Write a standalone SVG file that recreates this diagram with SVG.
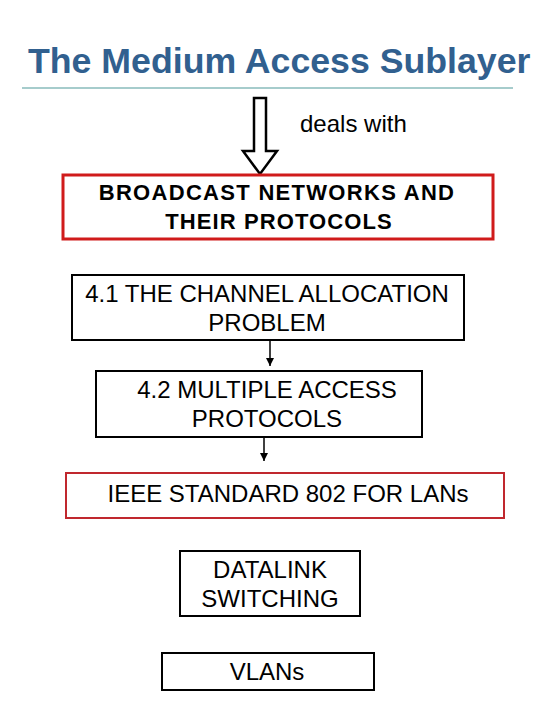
<svg xmlns="http://www.w3.org/2000/svg" width="540" height="720" viewBox="0 0 540 720">
<style>
.t{font-family:"Liberation Sans",Arial,sans-serif;fill:#000;text-anchor:middle}
.r{font-size:24px}
.b{font-size:22px;font-weight:bold}
.box{fill:#fff;stroke:#000;stroke-width:2}
.conn{stroke:#000;stroke-width:1.5;fill:none}
</style>
<defs>
<marker id="ah" viewBox="0 0 8 10" refX="8" refY="5" markerWidth="8" markerHeight="10" markerUnits="userSpaceOnUse" orient="auto">
<path d="M0,1 L8,5 L0,9 z" fill="#000"/>
</marker>
</defs>
<rect width="540" height="720" fill="#fff"/>
<g id="title">
<text x="28" y="73" font-family="Liberation Sans,Arial,sans-serif" font-weight="bold" font-size="35.7" fill="#31608f">The Medium Access Sublayer</text>
<line x1="22" y1="88" x2="513" y2="88" stroke="#4f9a9a" stroke-width="1.2"/>
</g>
<g id="connectors">
<path d="M254,98 L266,98 L266,151 L277,151 L260,174 L243,151 L254,151 Z" fill="#fff" stroke="#000" stroke-width="2.5" stroke-linejoin="miter"/>
<line class="conn" x1="270" y1="341" x2="270" y2="366" marker-end="url(#ah)"/>
<line class="conn" x1="264" y1="438" x2="264" y2="461" marker-end="url(#ah)"/>
</g>
<g id="deals-with">
<text x="300" y="132" font-family="Liberation Sans,Arial,sans-serif" font-size="24" fill="#000">deals with</text>
</g>
<g id="broadcast">
<rect x="63" y="175" width="430" height="64" fill="#fff" stroke="#d01b1b" stroke-width="3"/>
<text class="t b" x="277" y="200" letter-spacing="1.3">BROADCAST NETWORKS AND</text>
<text class="t b" x="279" y="229" letter-spacing="1.1">THEIR PROTOCOLS</text>
</g>
<g id="channel-allocation">
<rect class="box" x="72" y="275" width="392" height="65"/>
<text class="t r" x="267" y="302">4.1 THE CHANNEL ALLOCATION</text>
<text class="t r" x="267" y="331">PROBLEM</text>
</g>
<g id="multiple-access">
<rect class="box" x="96" y="371" width="326" height="66"/>
<text class="t r" x="267" y="398">4.2 MULTIPLE ACCESS</text>
<text class="t r" x="267" y="427">PROTOCOLS</text>
</g>
<g id="ieee802">
<rect x="66" y="473" width="438" height="45" fill="#fff" stroke="#c0282e" stroke-width="2"/>
<text class="t r" x="288" y="502">IEEE STANDARD 802 FOR LANs</text>
</g>
<g id="datalink-switching">
<rect class="box" x="180" y="551" width="180" height="65"/>
<text class="t r" x="270" y="578">DATALINK</text>
<text class="t r" x="270" y="607">SWITCHING</text>
</g>
<g id="vlans">
<rect class="box" x="162" y="653" width="212" height="37"/>
<text class="t r" x="267" y="680">VLANs</text>
</g>
</svg>
